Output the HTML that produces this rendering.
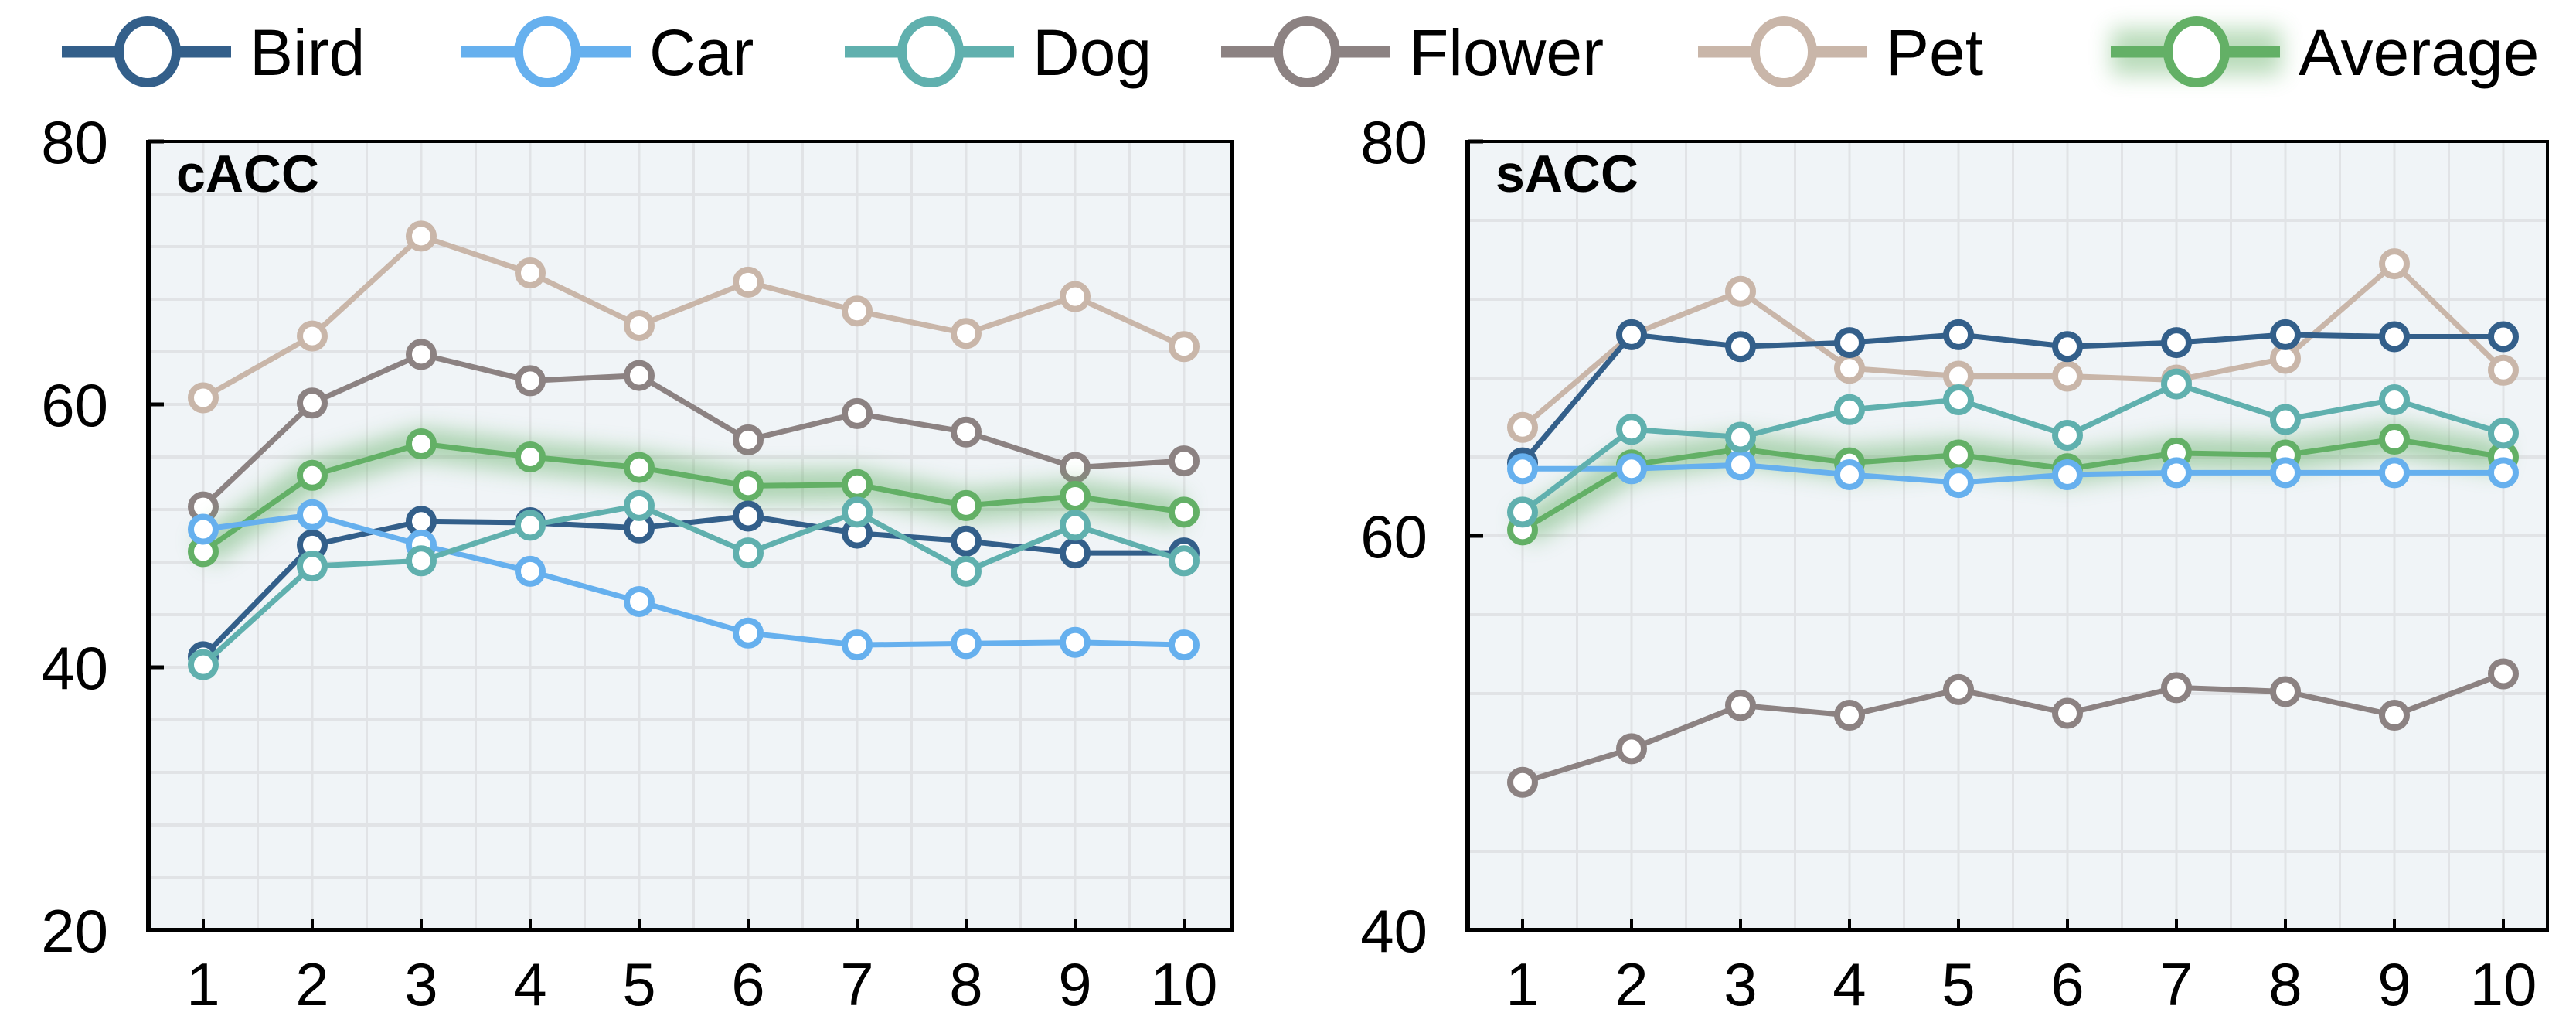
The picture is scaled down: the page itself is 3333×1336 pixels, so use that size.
<!DOCTYPE html>
<html><head><meta charset="utf-8"><style>
html,body{margin:0;padding:0;background:#fff;}
svg{display:block;font-family:"Liberation Sans",Arial,sans-serif;}
</style></head><body>
<svg id="chart" width="3333" height="1336" viewBox="0 0 3333 1336">
<defs><filter id="glow" x="-20%" y="-50%" width="140%" height="200%"><feGaussianBlur stdDeviation="14"/></filter></defs>
<g id="legend"></g>
<g id="p1"></g>
<g id="p2"></g>
</svg>
<script>
const categories = [1,2,3,4,5,6,7,8,9,10];
const seriesNames = ["Bird","Car","Dog","Flower","Pet","Average"];
const cBird = [40.8,49.3,51.1,51.0,50.6,51.5,50.2,49.6,48.7,48.7];
const cCar = [50.5,51.6,49.3,47.3,45.0,42.6,41.7,41.8,41.9,41.7];
const cDog = [40.2,47.7,48.1,50.8,52.3,48.7,51.8,47.3,50.8,48.1];
const cFlower = [52.2,60.1,63.8,61.8,62.2,57.3,59.3,57.9,55.2,55.7];
const cPet = [60.5,65.2,72.8,70.0,66.0,69.3,67.1,65.4,68.2,64.4];
const cAverage = [48.8,54.6,57.0,56.0,55.2,53.8,53.9,52.3,53.0,51.8];
const sBird = [63.7,70.2,69.6,69.8,70.2,69.6,69.8,70.2,70.1,70.1];
const sCar = [63.4,63.4,63.6,63.1,62.7,63.1,63.2,63.2,63.2,63.2];
const sDog = [61.2,65.4,65.0,66.4,66.9,65.1,67.7,65.9,66.9,65.2];
const sFlower = [47.5,49.2,51.4,50.9,52.2,51.0,52.3,52.1,50.9,53.0];
const sPet = [65.5,70.2,72.4,68.5,68.1,68.1,67.9,69.0,73.8,68.4];
const sAverage = [60.3,63.6,64.4,63.7,64.1,63.4,64.2,64.1,64.9,64.0];
const cTicks = [20,40,60,80];
const sTicks = [40,60,80];

const colors = {Bird:"#335f8a",Car:"#66b0ee",Dog:"#60b0ae",Flower:"#8c8282",Pet:"#c9b6a9",Average:"#63b066"};
const NS="http://www.w3.org/2000/svg";
function mk(parent,tag,attrs,text){const e=document.createElementNS(NS,tag);for(const k in attrs)e.setAttribute(k,attrs[k]);if(text!==undefined)e.textContent=text;parent.appendChild(e);return e;}

const lg=document.getElementById('legend');
const legX=[191,708,1204,1691,2308,2842];
seriesNames.forEach((n,i)=>{
  const g=mk(lg,'g',{});
  
  
  const cx=legX[i], c=colors[n];
  if(n==="Average") mk(g,'rect',{x:cx-110,y:37,width:220,height:60,fill:c,opacity:0.45,filter:'url(#glow)'});
  mk(g,'line',{x1:cx-111,y1:67,x2:cx+108,y2:67,stroke:c,'stroke-width':15});
  mk(g,'ellipse',{cx:cx,cy:67,rx:37,ry:40,fill:'#fff',stroke:c,'stroke-width':12});
  mk(g,'text',{x:cx+132,y:97,'font-size':84,fill:'#000'},n);
});

function panel(gid,ymin,ymax,ticks,data,title){
  const g=document.getElementById(gid);
  const L = gid==='p1'?192:1899, R = gid==='p1'?1594:3296, T=183, B=1203;
  const x0 = L+71;
  const xs=v=>x0+(v-1)*141;
  const ys=v=>B-(v-ymin)/(ymax-ymin)*(B-T);
  mk(g,'rect',{x:L,y:T,width:R-L,height:B-T,fill:'#f0f4f7'});
  const grid=mk(g,'g',{});
  
  
  for(let v=ymin+4; v<ymax; v+=4) mk(grid,'line',{x1:L,x2:R,y1:ys(v),y2:ys(v),stroke:'#e1e3e6','stroke-width':4});
  for(let v=0.5; v<=10.5; v+=0.5){const x=xs(v); if(x>L&&x<R) mk(grid,'line',{x1:x,x2:x,y1:T,y2:B,stroke:'#e1e3e6','stroke-width':3});}
  mk(g,'rect',{x:L,y:T,width:R-L,height:B-T,fill:'none',stroke:'#000','stroke-width':4});
  mk(g,'line',{x1:L,x2:L,y1:T-2,y2:B+2,stroke:'#000','stroke-width':6});
  mk(g,'line',{x1:L-2,x2:R+2,y1:B,y2:B,stroke:'#000','stroke-width':6});
  ticks.forEach(t=>{
    const y=ys(t);
    mk(g,'line',{x1:L,x2:L+20,y1:y,y2:y,stroke:'#000','stroke-width':5});
    const tx=mk(g,'text',{x:L-52,y:y+28,'font-size':78,'text-anchor':'end'},String(t));
    
    
  });
  categories.forEach(c=>{
    const x=xs(c);
    mk(g,'line',{x1:x,x2:x,y1:B,y2:B-14,stroke:'#000','stroke-width':4});
    const tx=mk(g,'text',{x:x,y:B+97,'font-size':78,'text-anchor':'middle'},String(c));
    
    
  });
  const tt=mk(g,'text',{x:L+36,y:248,'font-size':68,'font-weight':'bold'},title);
  
  
  const order=["Pet","Flower","Average","Bird","Car","Dog"];
  order.forEach(n=>{
    const vals=data[n], c=colors[n];
    const sg=mk(g,'g',{});
    
    
    const pts=vals.map((v,i)=>xs(categories[i])+','+ys(v)).join(' ');
    if(n==="Average") mk(sg,'polyline',{points:pts,fill:'none',stroke:c,'stroke-width':40,opacity:0.5,filter:'url(#glow)','stroke-linejoin':'round'});
    mk(sg,'polyline',{points:pts,fill:'none',stroke:c,'stroke-width':7,'stroke-linejoin':'round'});
    vals.forEach((v,i)=>{
      const p=mk(sg,'circle',{cx:xs(categories[i]),cy:ys(v),r:16,fill:'#fff',stroke:c,'stroke-width':8});
      
      
    });
  });
}
panel('p1',20,80,cTicks,{Bird:cBird,Car:cCar,Dog:cDog,Flower:cFlower,Pet:cPet,Average:cAverage},'cACC');
panel('p2',40,80,sTicks,{Bird:sBird,Car:sCar,Dog:sDog,Flower:sFlower,Pet:sPet,Average:sAverage},'sACC');
</script>
</body></html>
